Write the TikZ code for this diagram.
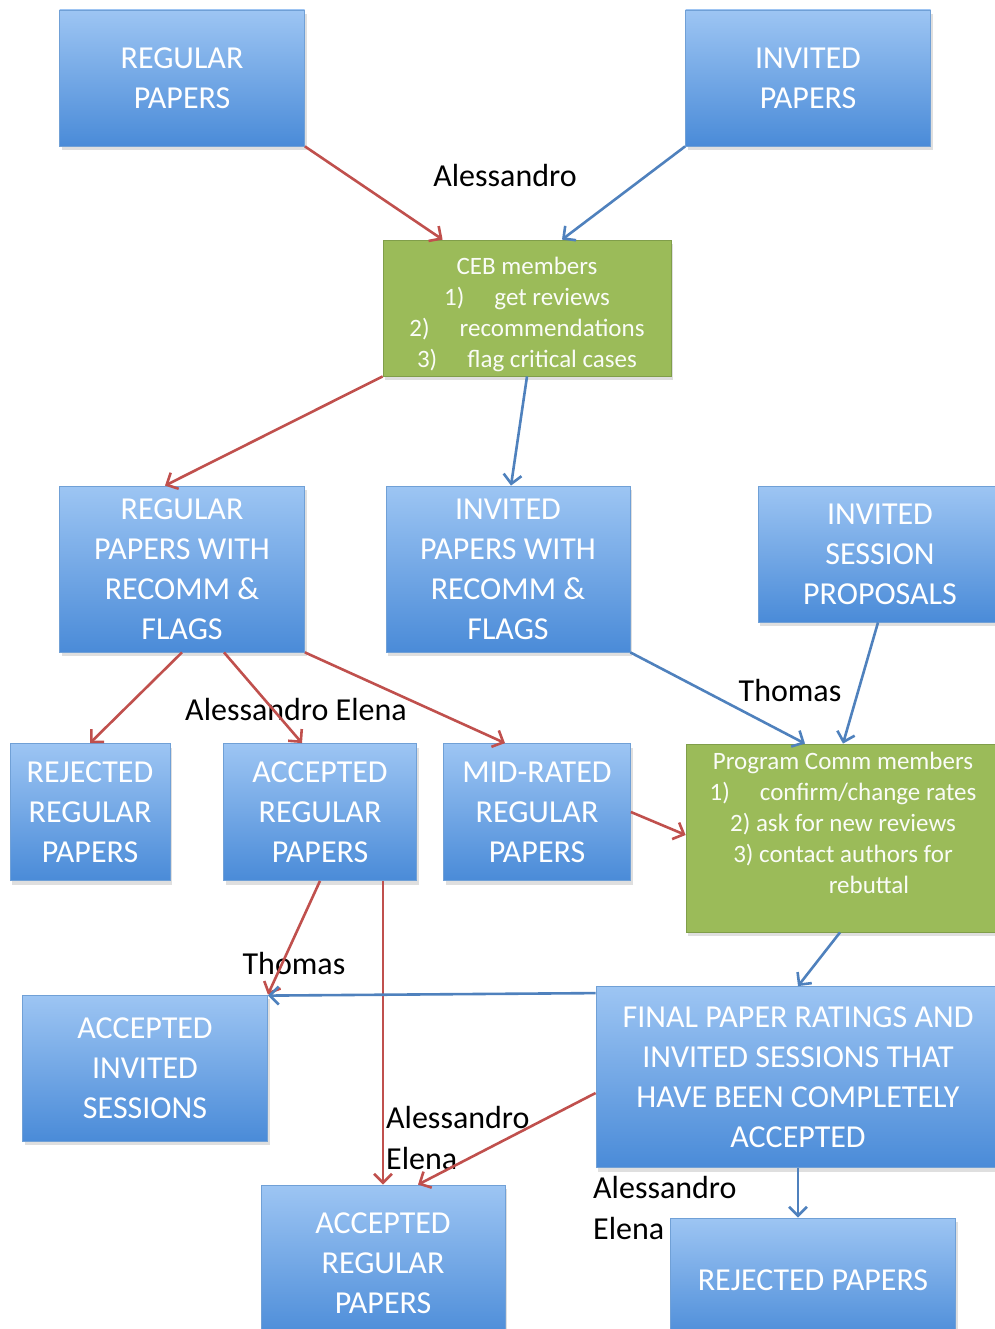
\documentclass[tikz,border=0pt]{standalone}
\usepackage{fontspec}
\setmainfont{Carlito}
\usetikzlibrary{arrows.meta,shadows}

\definecolor{boxtop}{RGB}{157,197,243}
\definecolor{boxbot}{RGB}{74,139,216}
\definecolor{boxline}{RGB}{112,160,214}
\definecolor{cebgreen}{RGB}{155,187,89}
\definecolor{cebline}{RGB}{128,158,74}
\definecolor{redarr}{RGB}{192,80,77}
\definecolor{bluarr}{RGB}{79,129,189}

\tikzset{
  blu/.style={draw=boxline, line width=0.8pt, top color=boxtop, bottom color=boxbot,
    text=white, align=center, inner sep=0pt, font=\fontsize{32}{40}\selectfont,
    drop shadow={shadow xshift=2pt, shadow yshift=-4pt, opacity=0.25}},
  grn/.style={draw=cebline, line width=0.8pt, fill=cebgreen, text=white!95!cebgreen,
    align=center, inner sep=0pt, font=\fontsize{25}{31}\selectfont,
    drop shadow={shadow xshift=2pt, shadow yshift=-4pt, opacity=0.25}},
  lbl/.style={font=\fontsize{32}{41}\selectfont, align=left, inner sep=0pt},
  ra/.style={draw=redarr, line width=2.6pt, -{Straight Barb[length=9pt,width=18pt]}},
  ba/.style={draw=bluarr, line width=2.6pt, -{Straight Barb[length=9pt,width=18pt]}}
}

\begin{document}
\begin{tikzpicture}[x=1pt, y=-1pt]
  \useasboundingbox (0,0) rectangle (994,1329);

  % top row
  \node[blu, minimum width=245pt, minimum height=136pt] (reg) at (182,78) {REGULAR\\PAPERS};
  \node[blu, minimum width=245pt, minimum height=136pt] (inv) at (808,78) {INVITED\\PAPERS};
  \node[grn, minimum width=288pt, minimum height=136pt] (ceb) at (527,308)
    {\rule{0pt}{8pt}\\[-8pt]CEB members\\1)\hspace{1.2em}get reviews\\2)\hspace{1.2em}recommendations\\3)\hspace{1.2em}flag critical cases};

  % second row
  \node[blu, minimum width=245pt, minimum height=166pt] (regrec) at (182,569) {REGULAR\\PAPERS WITH\\RECOMM \&\\FLAGS};
  \node[blu, minimum width=244pt, minimum height=166pt] (invrec) at (508,569) {INVITED\\PAPERS WITH\\RECOMM \&\\FLAGS};
  \node[blu, minimum width=244pt, minimum height=136pt] (isp) at (880,554) {INVITED\\SESSION\\PROPOSALS};

  % third row
  \node[blu, minimum width=160pt, minimum height=137pt] (rej) at (90,812) {REJECTED\\REGULAR\\PAPERS};
  \node[blu, minimum width=193pt, minimum height=137pt] (acc) at (320,812) {ACCEPTED\\REGULAR\\PAPERS};
  \node[blu, minimum width=187pt, minimum height=137pt] (mid) at (537,812) {MID-RATED\\REGULAR\\PAPERS};
  \node[grn, minimum width=314pt, minimum height=188pt] (pc) at (843,838)
    {Program Comm members\\1)\hspace{1.2em}confirm/change rates\\2) ask for new reviews\\3) contact authors for\\\hspace*{52pt}rebuttal\\\mbox{}};

  % bottom
  \node[blu, minimum width=245pt, minimum height=146pt] (ais) at (145,1068) {ACCEPTED\\INVITED\\SESSIONS};
  \node[blu, minimum width=404pt, minimum height=181pt] (final) at (798,1077)
    {FINAL PAPER RATINGS AND\\INVITED SESSIONS THAT\\HAVE BEEN COMPLETELY\\ACCEPTED};
  \node[blu, minimum width=244pt, minimum height=156pt] (accreg) at (383,1263) {ACCEPTED\\REGULAR\\PAPERS};
  \node[blu, minimum width=285pt, minimum height=124pt] (rejp) at (813,1280) {REJECTED PAPERS};

  % names
  \node[lbl] (lab1) at (505,176) {Alessandro};
  \node[lbl] (lab2) at (296,710) {Alessandro Elena};
  \node[lbl] (lab3) at (790,691) {Thomas};
  \node[lbl] (lab4) at (294,963) {Thomas};
  \node[lbl, anchor=west] (lab5) at (386,1138) {Alessandro\\Elena};
  \node[lbl, anchor=west] (lab6) at (593,1208) {Alessandro\\Elena};

  \path[every edge/.style={ra}]
  (reg.south east) edge ([xshift=60pt]ceb.north west)
  (ceb.south west) edge ([xshift=-17pt]regrec.north)
  (regrec.south) edge (rej.north)
  ([xshift=42pt]regrec.south) edge ([xshift=-18pt]acc.north)
  (regrec.south east) edge ([xshift=-32pt]mid.north)
  (mid.east) edge ([yshift=3pt]pc.west)
  (acc.south) edge (ais.north east)
  ([xshift=63pt]acc.south) edge (accreg.north)
  ([yshift=-16pt]final.west) edge ([xshift=35pt]accreg.north);
  \path[every edge/.style={ba}]
  (inv.south west) edge ([xshift=35pt]ceb.north)
  (ceb.south) edge ([xshift=3pt]invrec.north)
  (invrec.south east) edge ([xshift=-38pt]pc.north)
  ([xshift=-2pt]isp.south) edge (pc.north)
  ([xshift=-3pt]pc.south) edge (final.north)
  ([yshift=-7pt]final.north west) edge ([yshift=-1pt]ais.north east)
  (final.south) edge ([xshift=-15pt]rejp.north);
\end{tikzpicture}
\end{document}
